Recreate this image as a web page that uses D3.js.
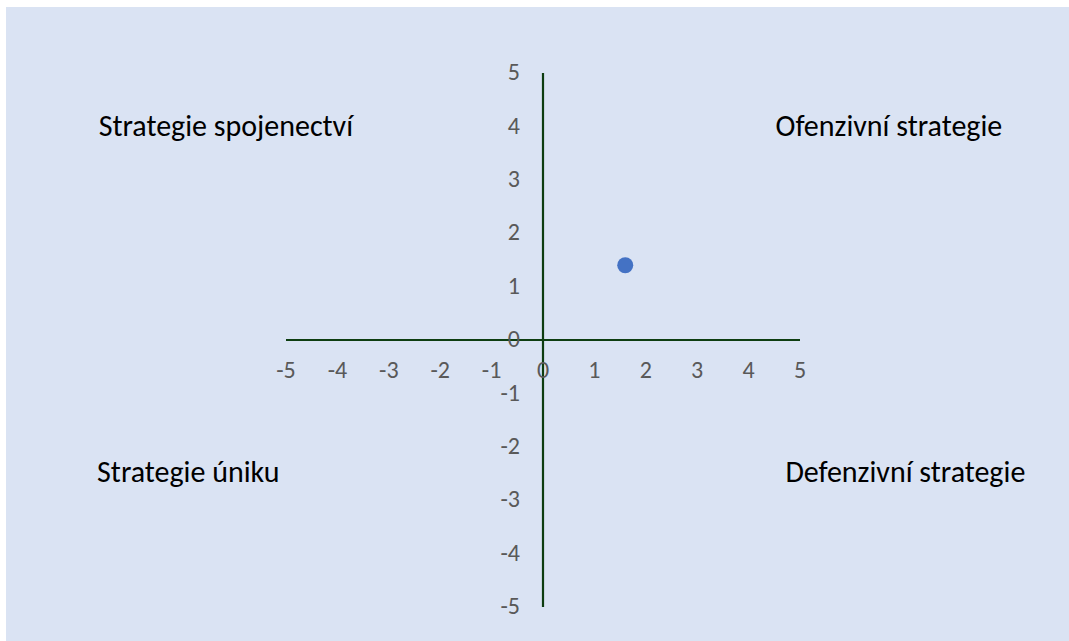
<!DOCTYPE html>
<html>
<head>
<meta charset="utf-8">
<script src="https://cdn.jsdelivr.net/npm/d3@7"></script>
<style>
  body { margin: 0; background: #ffffff; }
  svg { display: block; }
</style>
</head>
<body>
<div id="chart"></div>
<script>
// data
var pointX = [1.6];
var pointY = [1.4];

var xTicks = [-5, -4, -3, -2, -1, 0, 1, 2, 3, 4, 5];
var yTicks = [-5, -4, -3, -2, -1, 0, 1, 2, 3, 4, 5];

var quadrantNames = ["Strategie spojenectví", "Ofenzivní strategie", "Strategie úniku", "Defenzivní strategie"];
var quadrantX = [-6.17, 6.73, -6.9, 7.05];
var quadrantY = [3.95, 3.95, -2.52, -2.52];

var width = 1069, height = 641;

var svg = d3.select("#chart").append("svg")
    .attr("width", width)
    .attr("height", height);

// chart area background
svg.append("rect")
    .attr("x", 6).attr("y", 7)
    .attr("width", width - 6).attr("height", height - 7)
    .attr("fill", "#dae3f3");

var x = d3.scaleLinear().domain([-5, 5]).range([286, 800]);
var y = d3.scaleLinear().domain([-5, 5]).range([607, 73]);

var axisColor = "#0d3d10";
var tickColor = "#595959";
var font = "Carlito, Lato, sans-serif";

// horizontal axis
svg.append("line")
    .attr("x1", x(-5)).attr("x2", x(5))
    .attr("y1", y(0)).attr("y2", y(0))
    .attr("stroke", axisColor).attr("stroke-width", 2.2);

// vertical axis
svg.append("line")
    .attr("x1", x(0)).attr("x2", x(0))
    .attr("y1", y(5)).attr("y2", y(-5))
    .attr("stroke", axisColor).attr("stroke-width", 2.2);

svg.selectAll(".xlab")
    .data(xTicks)
    .enter().append("text")
    .attr("class", "xlab")
    .attr("x", function(d) { return x(d); })
    .attr("y", y(0) + 32)
    .attr("text-anchor", "middle")
    .attr("dominant-baseline", "middle")
    .attr("font-family", font)
    .attr("font-size", 24)
    .attr("fill", tickColor)
    .text(function(d) { return d; });

svg.selectAll(".ylab")
    .data(yTicks)
    .enter().append("text")
    .attr("class", "ylab")
    .attr("x", x(0) - 23)
    .attr("y", function(d) { return y(d) + 1.5; })
    .attr("text-anchor", "end")
    .attr("dominant-baseline", "middle")
    .attr("font-family", font)
    .attr("font-size", 24)
    .attr("fill", tickColor)
    .text(function(d) { return d; });

// quadrant labels
svg.selectAll(".qlab")
    .data(quadrantNames)
    .enter().append("text")
    .attr("class", "qlab")
    .attr("x", function(d, i) { return x(quadrantX[i]); })
    .attr("y", function(d, i) { return y(quadrantY[i]); })
    .attr("text-anchor", "middle")
    .attr("dominant-baseline", "middle")
    .attr("font-family", font)
    .attr("font-size", 30)
    .attr("fill", "#000000")
    .text(function(d) { return d; });

// the point
svg.selectAll(".pt")
    .data(pointX)
    .enter().append("circle")
    .attr("class", "pt")
    .attr("cx", function(d) { return x(d); })
    .attr("cy", function(d, i) { return y(pointY[i]); })
    .attr("r", 8)
    .attr("fill", "#4472c4");
</script>
</body>
</html>
